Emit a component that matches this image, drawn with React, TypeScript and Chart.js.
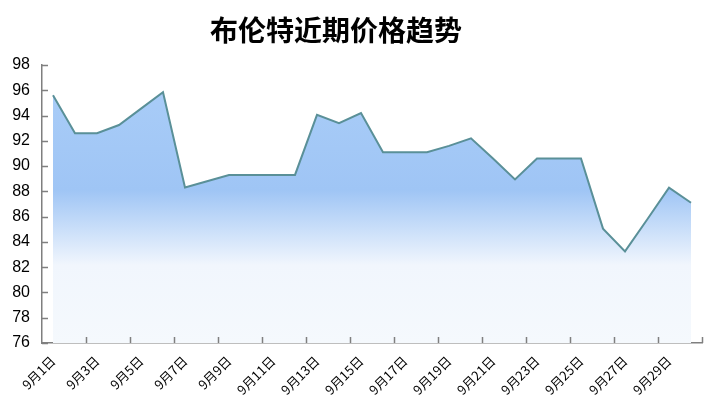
import React, { useEffect, useRef } from 'react';
import { Chart, registerables } from 'chart.js';

Chart.register(...registerables);

const TITLE = '布伦特近期价格趋势';

const days = [
  '9月1日', '9月2日', '9月3日', '9月4日', '9月5日', '9月6日', '9月7日', '9月8日', '9月9日', '9月10日',
  '9月11日', '9月12日', '9月13日', '9月14日', '9月15日', '9月16日', '9月17日', '9月18日', '9月19日', '9月20日',
  '9月21日', '9月22日', '9月23日', '9月24日', '9月25日', '9月26日', '9月27日', '9月28日', '9月29日', '9月30日',
];

const prices = [
  95.6, 92.6, 92.6, 93.25, 94.55, 95.85, 88.3, 88.8, 89.3, 89.3,
  89.3, 89.3, 94.05, 93.4, 94.2, 91.1, 91.1, 91.1, 91.6, 92.2,
  90.6, 88.95, 90.6, 90.6, 90.6, 85.05, 83.25, 85.75, 88.3, 87.1,
];

const yMin = 76;
const yMax = 98;
const yStep = 2;

const AXIS_COLOR = '#7f7f7f';

const titlePlugin = {
  id: 'customTitle',
  afterDraw(chart: any) {
    const ctx = chart.ctx;
    ctx.save();
    ctx.font = 'bold 28px "Noto Sans CJK SC", sans-serif';
    ctx.fillStyle = '#000';
    ctx.textAlign = 'center';
    ctx.textBaseline = 'middle';
    ctx.fillText(TITLE, 336, 30);
    ctx.restore();
  },
};

const innerTicksPlugin = {
  id: 'innerTicks',
  afterDraw(chart: any) {
    const ctx = chart.ctx;
    const x = chart.scales.x;
    const y = chart.scales.y;
    const area = chart.chartArea;
    ctx.save();
    ctx.strokeStyle = AXIS_COLOR;
    ctx.lineWidth = 1.5;
    ctx.beginPath();
    const n = days.length;
    for (let i = 2; i <= n; i += 2) {
      const px = Math.round(x.getPixelForValue(i - 0.5)) + 0.5;
      ctx.moveTo(px, area.bottom);
      ctx.lineTo(px, area.bottom - 6);
    }
    const pxEnd = Math.round(x.getPixelForValue(n - 0.5)) + 0.5;
    ctx.moveTo(pxEnd, area.bottom);
    ctx.lineTo(pxEnd, area.bottom - 6);
    y.ticks.forEach((t: any) => {
      const py = Math.round(y.getPixelForValue(t.value)) + 0.5;
      ctx.moveTo(area.left, py);
      ctx.lineTo(area.left + 6, py);
    });
    ctx.stroke();
    ctx.restore();
  },
};

export default function App() {
  const ref = useRef<HTMLCanvasElement | null>(null);

  useEffect(() => {
    document.body.style.margin = '0';
    const canvas = ref.current;
    if (!canvas) return;

    const chart = new Chart(canvas, {
      type: 'line',
      data: {
        labels: days,
        datasets: [
          {
            data: prices,
            borderColor: '#5a9098',
            borderWidth: 2,
            pointRadius: 0,
            tension: 0,
            fill: 'origin',
            backgroundColor: (c: any) => {
              const { chart } = c;
              const area = chart.chartArea;
              if (!area) return 'rgba(160,198,245,1)';
              const g = chart.ctx.createLinearGradient(0, area.top, 0, area.bottom);
              g.addColorStop(0, '#abcef8');
              g.addColorStop(0.45, '#9fc5f5');
              g.addColorStop(0.72, '#f1f6fd');
              g.addColorStop(1, '#f5f9fd');
              return g;
            },
          },
        ],
      },
      options: {
        responsive: false,
        animation: false,
        layout: { padding: { top: 65, right: 15, left: 0, bottom: 0 } },
        plugins: {
          legend: { display: false },
          title: { display: false },
          tooltip: { enabled: false },
        },
        scales: {
          x: {
            type: 'category',
            offset: true,
            grid: { display: false, drawTicks: false, offset: true },
            border: { display: true, color: AXIS_COLOR, width: 1.5 },
            ticks: {
              autoSkip: false,
              maxRotation: 45,
              minRotation: 45,
              padding: 10,
              color: '#000',
              font: { family: '"Noto Sans CJK SC", sans-serif', size: 13 },
              callback: (_v: any, i: number) => (i % 2 === 0 ? days[i] : ''),
            },
            afterFit: (s: any) => {
              s.height = 65;
            },
          },
          y: {
            min: yMin,
            max: yMax,
            grid: { display: false, drawTicks: false },
            border: { display: true, color: AXIS_COLOR, width: 1.5 },
            ticks: {
              stepSize: yStep,
              padding: 12,
              color: '#000',
              font: { family: '"Liberation Sans", sans-serif', size: 16 },
            },
            afterFit: (s: any) => {
              s.width = 42;
            },
          },
        },
      },
      plugins: [titlePlugin, innerTicksPlugin],
    });

    return () => chart.destroy();
  }, []);

  return (
    <div style={{ width: 717, height: 408 }}>
      <canvas ref={ref} width={717} height={408} style={{ display: 'block' }} />
    </div>
  );
}
